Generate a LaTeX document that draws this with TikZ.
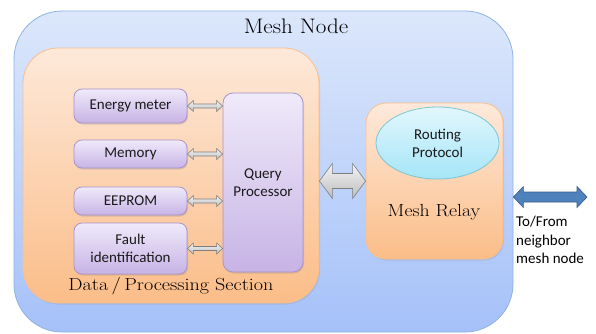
\documentclass[tikz,border=0pt]{standalone}
\usepackage{fontspec}
\usepackage{graphicx}
\newfontfamily\calfont{Carlito}
\usetikzlibrary{calc,shapes.geometric,shadows}
\definecolor{outerline}{HTML}{8DB3E2}
\definecolor{outertop}{HTML}{DCE7FB}
\definecolor{outerbot}{HTML}{A5C1F9}
\definecolor{orline}{HTML}{F9BF8F}
\definecolor{ortop}{HTML}{FDE9DA}
\definecolor{orbot}{HTML}{FBBD88}
\definecolor{puline}{HTML}{A893CB}
\definecolor{putop}{HTML}{EFEAFA}
\definecolor{pubot}{HTML}{C7B3E5}
\definecolor{cyline}{HTML}{7CC6D6}
\definecolor{cytop}{HTML}{E2F7FD}
\definecolor{cybot}{HTML}{A5E5F8}
\definecolor{grline}{HTML}{7F7F7F}
\definecolor{grtop}{HTML}{F4F4F4}
\definecolor{grbot}{HTML}{BDBDBD}
\definecolor{blline}{HTML}{385D8A}
\definecolor{blfill}{HTML}{4F81BD}
\definecolor{txt}{HTML}{1A1A1A}
\newcommand\blockarrow[6]{%
  \path[#6] (#1) -- ($(#1)+(#5,#4)$) -- ($(#1)+(#5,#3)$) -- ($(#2)+(-#5,#3)$)
    -- ($(#2)+(-#5,#4)$) -- (#2) -- ($(#2)+(-#5,-#4)$) -- ($(#2)+(-#5,-#3)$)
    -- ($(#1)+(#5,-#3)$) -- ($(#1)+(#5,-#4)$) -- cycle;}
\begin{document}
\begin{tikzpicture}[x=1pt,y=1pt,
  outerbox/.style={draw=outerline, line width=0.8pt, rounded corners=48pt,
    top color=outertop, bottom color=outerbot, inner sep=0pt},
  section/.style={draw=orline, line width=0.8pt, top color=ortop, bottom color=orbot,
    inner sep=0pt, drop shadow={opacity=0.2, shadow xshift=1pt, shadow yshift=-1.5pt}},
  unit/.style={draw=puline, line width=0.8pt, rounded corners=8pt, top color=putop,
    bottom color=pubot, minimum width=113pt, inner sep=2pt, align=center,
    font=\calfont\fontsize{15}{18}\selectfont, text=txt,
    drop shadow={opacity=0.25, shadow xshift=1pt, shadow yshift=-1.5pt}},
  seriflbl/.style={font=\fontsize{17.5}{21}\selectfont, text=black, inner sep=0pt},
  grayarrow/.style={draw=grline, line width=0.6pt, top color=grtop, bottom color=grbot},
  bluearrow/.style={draw=blline, line width=0.6pt, fill=blfill}
]
\useasboundingbox (0,0) rectangle (596,-333);
\node[outerbox, minimum width=499pt, minimum height=321pt] (mesh) at (263.5,-171.5) {};
\node[seriflbl, font=\fontsize{21}{24}\selectfont] (title) at (296,-26) {\scalebox{1.1}[1]{Mesh Node}};
\node[section, rounded corners=35pt, minimum width=296pt, minimum height=255pt] (dps) at (171,-175.5) {};
\node[seriflbl] (dpslbl) at (171,-286) {\scalebox{1.15}[1]{Data\,/\,Processing Section}};
\node[unit, minimum height=34pt] (em) at (130.5,-106) {Energy meter};
\node[unit, minimum height=28pt] (mem) at (130.5,-154) {Memory};
\node[unit, minimum height=28pt] (eep) at (130.5,-201) {EEPROM};
\node[unit, minimum height=51pt] (fault) at (130.5,-248.5) {Fault\\identification};
\node[unit, rounded corners=10pt, minimum width=80pt, minimum height=179pt] (qp) at (263,-182.5) {Query\\Processor};
\node[section, rounded corners=20pt, minimum width=137pt, minimum height=156pt] (relay) at (434.5,-181) {};
\node[ellipse, draw=cyline, line width=0.8pt, top color=cytop, bottom color=cybot,
  minimum width=123pt, minimum height=72pt, inner sep=0pt, align=center,
  font=\calfont\fontsize{15}{18}\selectfont, text=txt] (rp) at (437.5,-143) {Routing\\Protocol};
\node[seriflbl] (rellbl) at (434,-212) {\scalebox{1.13}[1]{Mesh Relay}};
\coordinate (far) at (587,-197);
\node[font=\calfont\fontsize{15}{18.5}\selectfont, text=black, anchor=north west,
  align=left, inner sep=0pt] (nbr) at (516,-216) {To/From\\neighbor\\mesh node};
\blockarrow{em.east}{qp.west|-em.east}{2}{5.5}{6}{grayarrow}
\blockarrow{mem.east}{qp.west|-mem.east}{2}{5.5}{6}{grayarrow}
\blockarrow{eep.east}{qp.west|-eep.east}{2}{5.5}{6}{grayarrow}
\blockarrow{fault.east}{qp.west|-fault.east}{2}{5.5}{6}{grayarrow}
\blockarrow{dps.east|-relay.west}{relay.west}{7.5}{17.5}{13}{grayarrow}
\blockarrow{mesh.east|-far}{far}{5}{10.5}{10}{bluearrow}
\end{tikzpicture}
\end{document}
